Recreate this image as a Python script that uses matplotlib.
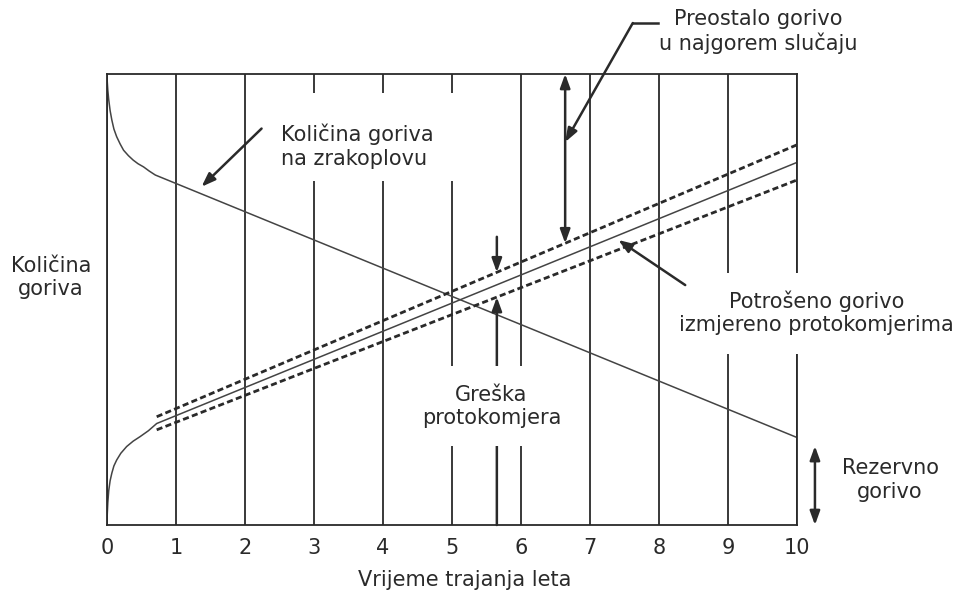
import numpy as np
import matplotlib
matplotlib.use("Agg")
import matplotlib.pyplot as plt
from matplotlib.patches import Rectangle

plt.rcParams['font.family'] = ['DejaVu Sans']

# flight time (hours) and fuel quantity (% of full tanks)
t_onboard = [0, 0.004, 0.012, 0.025, 0.045, 0.07, 0.10, 0.14, 0.19, 0.24,
             0.31, 0.38, 0.45, 0.53, 0.61, 0.70, 10]
fuel_onboard = [100, 98.2, 96.4, 94.3, 91.9, 89.8, 87.8, 86.1, 84.5, 83.1,
                81.9, 80.9, 80.1, 79.4, 78.5, 77.6, 19.4]

t_used = [0, 0.004, 0.012, 0.025, 0.045, 0.07, 0.10, 0.14, 0.20, 0.285,
          0.38, 0.48, 0.60, 0.72, 10]
fuel_used = [0, 2.5, 5.0, 7.6, 9.8, 11.5, 13.1, 14.4, 15.9, 17.4,
             18.6, 19.6, 20.9, 22.5, 80.4]

# flowmeter error band
t_band = [0.72, 10]
band_high = [24.0, 84.3]
band_low = [21.1, 76.5]

x_ticks = list(range(11))

worst_x = 6.64     # where the worst-case remaining fuel is marked
err_x = 5.65       # where the flowmeter error is marked
err_top = 63.9
reserve_x = 10.26
reserve_top = 17.5

ink = '#2a2a2a'

fig = plt.figure(figsize=(9.64, 5.94), dpi=100)
ax = fig.add_axes([107 / 964, 1 - 525 / 594, 690 / 964, 451 / 594])
ax.set_xlim(0, 10)
ax.set_ylim(0, 100)
ax.set_xticks(x_ticks)
ax.set_yticks([])
ax.tick_params(axis='x', length=0, pad=9, labelsize=15, labelcolor=ink)
ax.grid(axis='x', color=ink, lw=1.3)
for s in ax.spines.values():
    s.set_color(ink)
    s.set_linewidth(1.3)

ax.plot(t_onboard, fuel_onboard, color='#444', lw=1.1)
ax.plot(t_used, fuel_used, color='#444', lw=1.1)
ax.plot(t_band, band_high, color=ink, lw=2.0, ls=(0, (2.2, 1.2)))
ax.plot(t_band, band_low, color=ink, lw=2.0, ls=(0, (2.2, 1.2)))

arrow = dict(arrowstyle='-|>,head_length=0.55,head_width=0.2', color=ink,
             lw=1.8, mutation_scale=15, shrinkA=0, shrinkB=0)
arrow2 = dict(arrow, arrowstyle='<|-|>,head_length=0.55,head_width=0.2')

# worst case remaining fuel: top of the tanks down to the high error edge
hi_w = np.interp(worst_x, t_band, band_high)
ax.annotate('', xy=(worst_x, hi_w), xytext=(worst_x, 100),
            arrowprops=arrow2, annotation_clip=False, zorder=2)

# flowmeter error arrows
hi_e = np.interp(err_x, t_band, band_high)
lo_e = np.interp(err_x, t_band, band_low)
ax.annotate('', xy=(err_x, hi_e), xytext=(err_x, err_top),
            arrowprops=arrow, zorder=2)
ax.annotate('', xy=(err_x, lo_e), xytext=(err_x, 0),
            arrowprops=arrow, zorder=2)

# reserve fuel, outside the frame
ax.annotate('', xy=(reserve_x, 0), xytext=(reserve_x, reserve_top),
            arrowprops=arrow2, annotation_clip=False)

# leader for the worst case label
ax.plot([7.99, 7.62], [111.3, 111.3], color=ink, lw=1.8, clip_on=False)
ax.annotate('', xy=(worst_x, 84.9), xytext=(7.62, 111.3),
            arrowprops=arrow, annotation_clip=False, zorder=2)

ax.annotate('', xy=(1.37, 75.0), xytext=(2.24, 87.9), arrowprops=arrow)
ax.annotate('', xy=(7.41, 63.2), xytext=(8.38, 53.2),
            arrowprops=arrow, annotation_clip=False)

# white panels behind the labels that sit on the grid
for x0, x1, y0, y1 in [(2.29, 5.15, 76.3, 95.8),
                       (8.42, 12.42, 37.9, 55.9),
                       (4.54, 6.86, 17.5, 35.3)]:
    ax.add_patch(Rectangle((x0, y0), x1 - x0, y1 - y0, facecolor='white',
                           edgecolor='none', clip_on=False, zorder=3.5))

txt = dict(fontsize=15, color=ink, zorder=4, linespacing=1.2)

ax.text(2.52, 84.0, 'Količina goriva\nna zrakoplovu', ha='left', va='center',
        **txt)
ax.text(9.44, 109.5, 'Preostalo gorivo\nu najgorem slučaju', ha='center',
        va='center', **txt)
ax.text(10.28, 47.0, 'Potrošeno gorivo\nizmjereno protokomjerima',
        ha='center', va='center', **txt)
ax.text(5.57, 26.2, 'Greška\nprotokomjera', ha='center', va='center', **txt)
ax.text(11.35, 10.0, 'Rezervno\ngorivo', ha='center', va='center', **txt)
ax.text(-0.81, 54.8, 'Količina\ngoriva', ha='center', va='center', **txt)

fig.text(465 / 964, 1 - 580 / 594, 'Vrijeme trajanja leta', ha='center',
         va='center', fontsize=15, color=ink)

fig.savefig('out.png', dpi=100, facecolor='white')
